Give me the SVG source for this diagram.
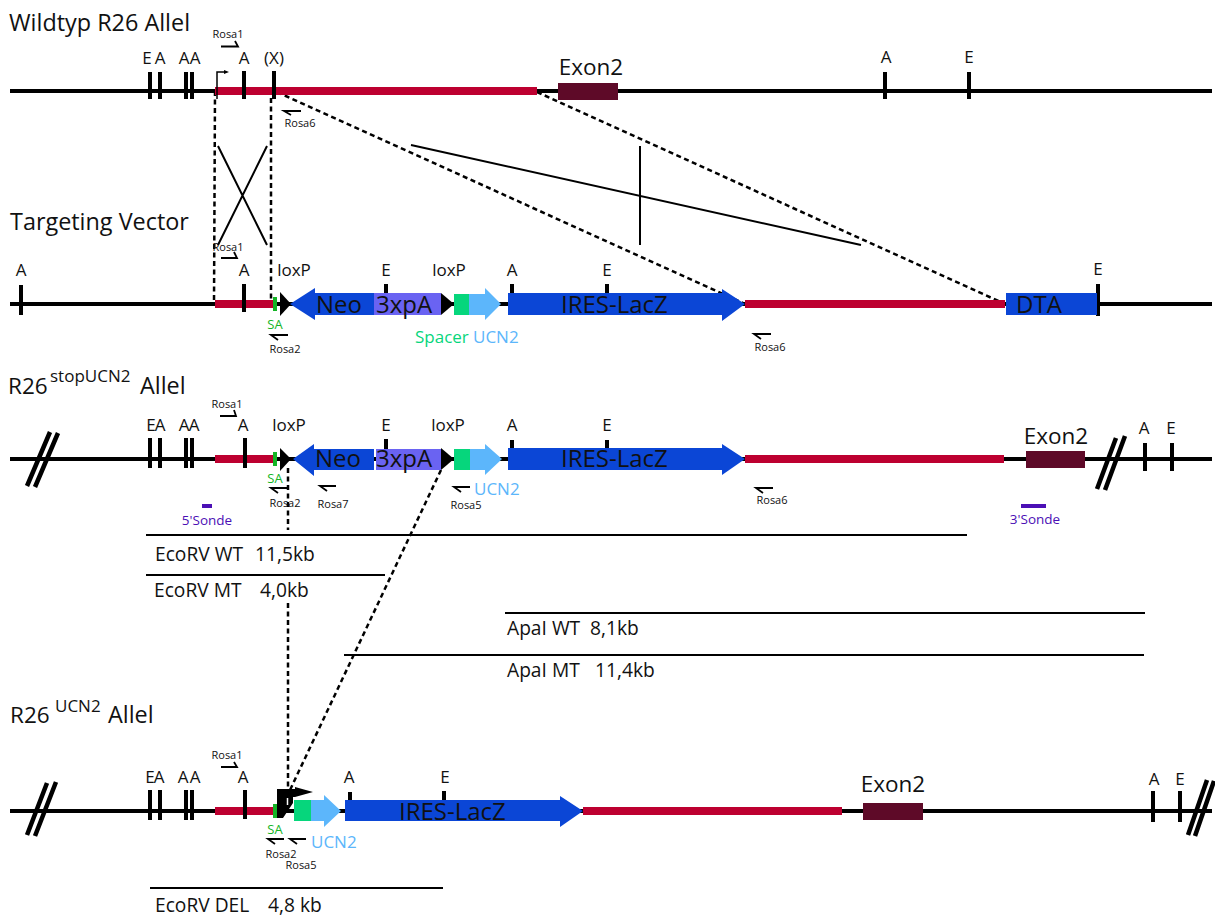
<svg xmlns="http://www.w3.org/2000/svg" width="1215" height="920" viewBox="0 0 1215 920">
<style>
text{font-family:"Open Sans","Noto Sans",sans-serif;fill:#111}
.t{font-size:23.4px}.r{font-size:22.5px}.s{font-size:17px}.m{font-size:22.5px}.g{font-size:24px}.p{font-size:11px}.e{font-size:19.2px}
.c{text-anchor:middle}
.base{stroke:#000;stroke-width:4;fill:none}
.tick{stroke:#000;stroke-width:4;fill:none}
.cut{stroke:#000;stroke-width:4.5;fill:none}
.red{fill:#bd0030}.ex{fill:#5e0a28}.blue{fill:#0b46d6}.pur{fill:#6a63f2}.grn{fill:#06d67c}.lb{fill:#5cb6fb}.sa{fill:#14b526}.k{fill:#000}
.dash{stroke:#000;stroke-width:2.5;stroke-dasharray:5 3.5;fill:none}
.ln{stroke:#000;stroke-width:2;fill:none}
.pr{stroke:#000;stroke-width:1.8;fill:none}
.tsa{font-size:13px;fill:#14b526}.tgr{font-size:17px;fill:#06d67c}.tlb{font-size:17px;fill:#5cb6fb}.tso{font-size:13.5px;fill:#4b0fb5}
.so{fill:#4b0fb5}
</style>
<g id="connectors">
<path class="dash" d="M215 91L214 304M271 98V300M277 92L745 304M537 92L1005 304M288 468V530M288 603V790M441 470L290 790"/>
<path class="ln" d="M218 146L267 245M267 146L218 245M411 145L861 245M640 146V245"/>
<path class="ln" d="M146 535H967M146 575H385M505 613H1145M344 655H1144M150 888H443"/>
</g>
<g id="wildtype">
<text class="t" x="9" y="31">Wildtyp R26 Allel</text>
<path class="base" d="M10 91H1212"/>
<rect class="red" x="215" y="87" width="322" height="8"/>
<rect class="ex" x="558" y="83" width="60" height="17"/>
<path class="tick" d="M150 72V99M160 72V99M186 72V99M192 72V99M244 71V99M274 71V99M885 72V99M969 72V99"/>
<path d="M217 99V72H224" stroke="#000" stroke-width="1.5" fill="none"/><path class="k" d="M224 70l5 2l-5 2z"/>
<path class="pr" d="M221 46.5H238L235 41M301 111H284L291 115"/>
<text class="s c" x="147" y="64">E</text><text class="s c" x="160" y="64">A</text><text class="s c" x="184" y="64">A</text><text class="s c" x="195" y="64">A</text><text class="s c" x="244" y="64">A</text><text class="s c" x="274" y="64">(X)</text><text class="s c" x="886" y="63">A</text><text class="s c" x="969" y="63">E</text>
<text class="m c" x="591" y="75">Exon2</text>
<text class="p c" x="228" y="38">Rosa1</text><text class="p c" x="300" y="127">Rosa6</text>
</g>
<g id="vector">
<text class="t" x="10" y="230">Targeting Vector</text>
<path class="base" d="M10 304H1212"/>
<rect class="red" x="215" y="300" width="59" height="8"/>
<rect class="sa" x="273" y="297" width="4" height="14"/>
<path class="k" d="M280 292L291 304L280 316z"/>
<path class="tick" d="M21 285V315M244 284V312M386 284V294M512 284V294M607 284V294M1098 284V316"/>
<path class="blue" d="M290 304L315 288V293H374V315H315V320z"/>
<rect class="pur" x="374" y="293" width="67" height="22"/>
<path class="k" d="M441 293L454 304L441 315z"/>
<rect class="grn" x="454" y="294" width="15" height="21"/>
<path class="lb" d="M469 294H485V288L501 304L485 320V315H469z"/>
<path class="blue" d="M508 293H722V289L745 304L722 321V315H508z"/>
<rect class="red" x="745" y="300" width="260" height="8"/>
<rect class="blue" x="1006" y="293" width="91" height="22"/>
<path class="pr" d="M221 258H237L234 252M288 335H271L278 340M771 334H754L761 339"/>
<text class="s c" x="21" y="276">A</text><text class="s c" x="244" y="276">A</text><text class="s c" x="294" y="276">loxP</text><text class="s c" x="386" y="276">E</text><text class="s c" x="449" y="276">loxP</text><text class="s c" x="512" y="276">A</text><text class="s c" x="607" y="276">E</text><text class="s c" x="1098" y="275">E</text>
<text class="g" x="316" y="313">Neo</text><text class="g" x="376" y="313">3xpA</text><text class="g" x="561" y="313">IRES-LacZ</text><text class="g" x="1016" y="313">DTA</text>
<text class="p c" x="228" y="251">Rosa1</text><text class="p c" x="285" y="353">Rosa2</text><text class="p c" x="770" y="351">Rosa6</text>
<text class="c tsa" x="275" y="329">SA</text>
<text class="tgr" x="415" y="343">Spacer</text><text class="tlb" x="473" y="343">UCN2</text>
</g>
<g id="stop">
<text class="r" x="8" y="394">R26</text><text x="50" y="382" style="font-size:17px">stopUCN2</text><text class="t" x="140" y="394">Allel</text>
<path class="base" d="M10 459H1212"/>
<path class="cut" d="M27 486L50 432M35 487L58 433M1097 489L1116 438M1105 490L1125 436"/>
<rect class="red" x="215" y="455" width="58" height="8"/>
<rect class="sa" x="273" y="452" width="4" height="14"/>
<path class="k" d="M280 448L291 459L280 471z"/>
<path class="tick" d="M150 438V468M160 438V468M186 438V468M192 438V468M245 438V468M386 439V449M512 440V450M607 440V450M1145 443V471M1172 443V471"/>
<path class="blue" d="M293 459L314 444V449H374V470H314V476z"/>
<rect class="pur" x="376" y="449" width="65" height="21"/>
<path class="k" d="M441 448L454 459L441 470z"/>
<rect class="grn" x="454" y="449" width="16" height="21"/>
<path class="lb" d="M470 449H485V444L502 459L485 475V470H470z"/>
<path class="blue" d="M508 448H722V444L745 459L722 475V470H508z"/>
<rect class="red" x="745" y="455" width="259" height="8"/>
<rect class="ex" x="1026" y="451" width="59" height="17"/>
<path class="pr" d="M220 416H236L234 410M287 488H271L278 493M336 486H320L327 491M470 487H454L461 492M773 488H756L763 493"/>
<text class="s c" x="151" y="431">E</text><text class="s c" x="160" y="431">A</text><text class="s c" x="184" y="431">A</text><text class="s c" x="194" y="431">A</text><text class="s c" x="243" y="431">A</text><text class="s c" x="289" y="431">loxP</text><text class="s c" x="386" y="431">E</text><text class="s c" x="448" y="431">loxP</text><text class="s c" x="512" y="431">A</text><text class="s c" x="607" y="431">E</text><text class="s c" x="1144" y="434">A</text><text class="s c" x="1171" y="434">E</text>
<text class="m c" x="1056" y="444">Exon2</text>
<text class="g" x="315" y="467">Neo</text><text class="g" x="376" y="467">3xpA</text><text class="g" x="561" y="467">IRES-LacZ</text>
<text class="p c" x="227" y="408">Rosa1</text><text class="p c" x="285" y="507">Rosa2</text><text class="p c" x="333" y="508">Rosa7</text><text class="p c" x="466" y="508.5">Rosa5</text><text class="p c" x="772" y="504">Rosa6</text>
<text class="c tsa" x="275" y="483">SA</text>
<text class="tlb" x="474" y="495">UCN2</text>
<rect class="so" x="202" y="504" width="10" height="4"/><rect class="so" x="1021" y="504" width="25" height="4"/>
<text class="c tso" x="207" y="525">5'Sonde</text><text class="c tso" x="1035" y="524">3'Sonde</text>
<text class="e" x="155" y="561">EcoRV WT</text><text class="e" x="255" y="561">11,5kb</text>
<text class="e" x="154" y="597">EcoRV MT</text><text class="e" x="260" y="597">4,0kb</text>
<text class="e" x="507" y="635">ApaI WT</text><text class="e" x="590" y="635">8,1kb</text>
<text class="e" x="507" y="677">ApaI MT</text><text class="e" x="595" y="677">11,4kb</text>
</g>
<g id="deleted">
<text class="r" x="10" y="723">R26</text><text x="55" y="712" style="font-size:17px">UCN2</text><text class="t" x="108" y="723">Allel</text>
<path class="base" d="M10 811H1212"/>
<path class="cut" d="M27 835L47 783M35 836L56 782M1188 835L1207 780M1195 836L1214 781"/>
<rect class="red" x="215" y="807" width="59" height="8"/>
<rect class="sa" x="273" y="804" width="4" height="14"/>
<path class="tick" d="M150 790V820M160 790V820M186 790V820M192 790V820M245 790V819M350 792V801M444 791V801M1153 791V822M1180 791V822"/>
<path class="k" d="M277 789H295V787L313 792L295 797H293V803L283 818H277z"/>
<path d="M287.5 798V805" stroke="#fff" stroke-width="1.5" fill="none"/>
<rect class="grn" x="294" y="800" width="17" height="21"/>
<path class="lb" d="M311 800H324V795L341 811L324 827V821H311z"/>
<path class="blue" d="M345 800H560V796L583 811L560 827V821H345z"/>
<rect class="red" x="583" y="807" width="259" height="8"/>
<rect class="ex" x="863" y="803" width="60" height="17"/>
<path class="pr" d="M221 767H237L234 762M284 839H268L275 844M306 839H290L297 844"/>
<text class="s c" x="150" y="783">E</text><text class="s c" x="159" y="783">A</text><text class="s c" x="183" y="783">A</text><text class="s c" x="195" y="783">A</text><text class="s c" x="243" y="783">A</text><text class="s c" x="349" y="783">A</text><text class="s c" x="445" y="783">E</text><text class="s c" x="1154" y="785">A</text><text class="s c" x="1180" y="785">E</text>
<text class="m c" x="893" y="792">Exon2</text>
<text class="g" x="399" y="820">IRES-LacZ</text>
<text class="p c" x="227" y="759">Rosa1</text><text class="p c" x="281" y="858">Rosa2</text><text class="p c" x="301" y="869">Rosa5</text>
<text class="c tsa" x="275" y="834">SA</text>
<text class="tlb" x="311" y="848">UCN2</text>
<text class="e" x="155" y="912">EcoRV DEL</text><text class="e" x="268" y="912">4,8 kb</text>
</g>
</svg>
